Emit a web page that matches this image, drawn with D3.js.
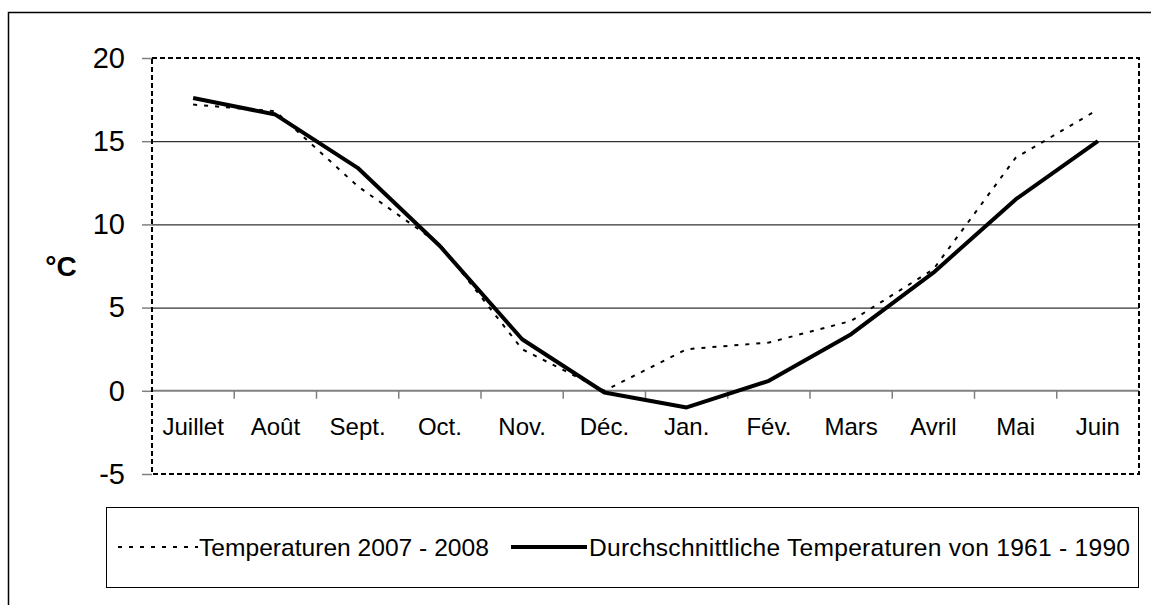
<!DOCTYPE html>
<html>
<head>
<meta charset="utf-8">
<script src="https://cdn.jsdelivr.net/npm/d3@7"></script>
<style>
  body { margin: 0; background: #fff; }
  svg { display: block; font-family: "Liberation Sans", Arial, sans-serif; }
</style>
</head>
<body>
<div id="chart"></div>
<script>
// data
var months = ["Juillet", "Août", "Sept.", "Oct.", "Nov.", "Déc.", "Jan.", "Fév.", "Mars", "Avril", "Mai", "Juin"]
var temp0708 = [17.2, 16.8, 12.3, 8.8, 2.5, 0.0, 2.5, 2.9, 4.2, 7.3, 14.0, 16.9]
var tempAvg = [17.6, 16.6, 13.4, 8.7, 3.1, -0.1, -1.0, 0.6, 3.4, 7.1, 11.5, 15.0]
var yTicks = [-5, 0, 5, 10, 15, 20]
var seriesNames = ["Temperaturen 2007 - 2008", "Durchschnittliche Temperaturen von 1961 - 1990"]

var w = 1151, h = 605
// plot area edges (window.top is reserved, so prefixed names)
var pLeft = 152, pRight = 1139, pTop = 58, pBottom = 474

var svg = d3.select("#chart").append("svg")
  .attr("width", w)
  .attr("height", h)

// outer frame (runs off the right/bottom edge)
svg.append("rect")
  .attr("x", 8.5).attr("y", 12.5)
  .attr("width", 1160).attr("height", 620)
  .attr("fill", "none").attr("stroke", "#000").attr("stroke-width", 1.5)

var x = d3.scaleBand().domain(months).range([pLeft, pRight])
var y = d3.scaleLinear().domain([-5, 20]).range([pBottom, pTop])
var cx = function(m) { return x(m) + x.bandwidth() / 2 }

// gridlines
svg.append("g")
  .selectAll("line")
  .data(yTicks.filter(function(d) { return d > 0 && d < 20 }))
  .enter().append("line")
  .attr("x1", pLeft).attr("x2", pRight)
  .attr("y1", function(d) { return y(d) + 0.5 })
  .attr("y2", function(d) { return y(d) + 0.5 })
  .attr("stroke", "#000").attr("stroke-width", 1)

// y axis, plain hyphen for negatives like the original
var yAxis = d3.axisLeft(y).tickValues(yTicks).tickSize(10).tickPadding(17)
  .tickFormat(function(d) { return String(d) })
var yg = svg.append("g")
  .attr("transform", "translate(" + pLeft + ",0)")
  .call(yAxis)
yg.select(".domain").remove()
yg.selectAll("line").attr("stroke", "#808080").attr("stroke-width", 1.5)
yg.selectAll("text")
  .attr("font-size", 29)
  .attr("font-family", "Liberation Sans, Arial, sans-serif")
  .attr("fill", "#000")

// zero line with category ticks
svg.append("line")
  .attr("x1", pLeft).attr("x2", pRight)
  .attr("y1", y(0)).attr("y2", y(0))
  .attr("stroke", "#808080").attr("stroke-width", 2)
svg.append("g")
  .selectAll("line")
  .data(months.slice(1))
  .enter().append("line")
  .attr("x1", function(d) { return x(d) }).attr("x2", function(d) { return x(d) })
  .attr("y1", y(0)).attr("y2", y(0) + 8)
  .attr("stroke", "#808080").attr("stroke-width", 1.5)

// category labels
var xAxis = d3.axisBottom(x).tickSize(0).tickPadding(27)
var xg = svg.append("g")
  .attr("transform", "translate(0," + y(0) + ")")
  .call(xAxis)
xg.select(".domain").remove()
xg.selectAll("text")
  .attr("font-size", 24)
  .attr("font-family", "Liberation Sans, Arial, sans-serif")
  .attr("fill", "#000")

// dashed plot border
svg.append("rect")
  .attr("x", pLeft).attr("y", pTop)
  .attr("width", pRight - pLeft).attr("height", pBottom - pTop)
  .attr("fill", "none").attr("stroke", "#000")
  .attr("stroke-width", 2).attr("stroke-dasharray", "5,3")

// series
var line = d3.line()
  .x(function(d, i) { return cx(months[i]) })
  .y(function(d) { return y(d) })

svg.append("path")
  .datum(temp0708)
  .attr("d", line)
  .attr("fill", "none").attr("stroke", "#000")
  .attr("stroke-width", 2).attr("stroke-dasharray", "4,7")

svg.append("path")
  .datum(tempAvg)
  .attr("d", line)
  .attr("fill", "none").attr("stroke", "#000")
  .attr("stroke-width", 4).attr("stroke-linejoin", "round")

// unit label
svg.append("text")
  .attr("x", 61).attr("y", 276)
  .attr("text-anchor", "middle")
  .attr("font-size", 28).attr("font-weight", "bold")
  .text("°C")

// legend
var lg = svg.append("g")
lg.append("rect")
  .attr("x", 106.5).attr("y", 507.5)
  .attr("width", 1032).attr("height", 80)
  .attr("fill", "#fff").attr("stroke", "#000").attr("stroke-width", 1)

var ly = 547
lg.append("line")
  .attr("x1", 118).attr("x2", 198).attr("y1", ly).attr("y2", ly)
  .attr("stroke", "#000").attr("stroke-width", 2).attr("stroke-dasharray", "4,7")
lg.append("text")
  .attr("x", 199).attr("y", ly + 8.5)
  .attr("font-size", 24.6)
  .text(seriesNames[0])
lg.append("line")
  .attr("x1", 511).attr("x2", 587).attr("y1", ly).attr("y2", ly)
  .attr("stroke", "#000").attr("stroke-width", 4)
lg.append("text")
  .attr("x", 589).attr("y", ly + 8.5)
  .attr("font-size", 24.6)
  .attr("textLength", 541)
  .attr("lengthAdjust", "spacing")
  .text(seriesNames[1])
</script>
</body>
</html>
